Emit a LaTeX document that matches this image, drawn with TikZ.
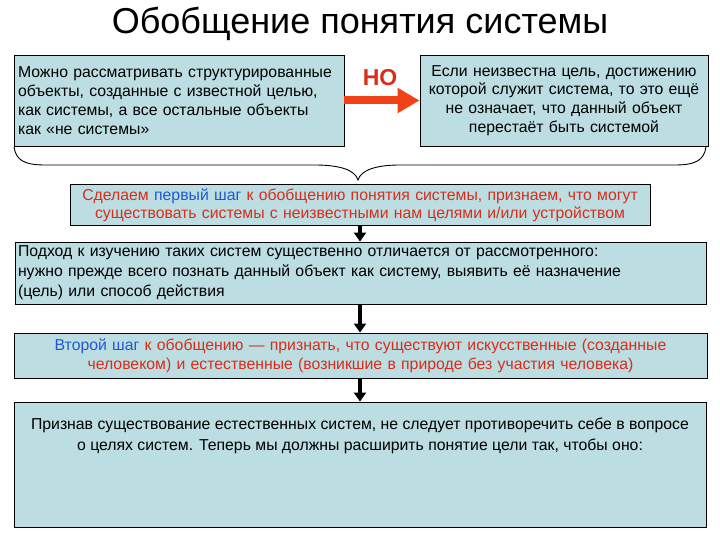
\documentclass[tikz,border=0pt]{standalone}
\usepackage{fontspec}
\setmainfont{Liberation Sans}
\usetikzlibrary{arrows.meta}
\definecolor{boxfill}{RGB}{188,222,226}
\definecolor{txtred}{RGB}{215,45,25}
\definecolor{txtblue}{RGB}{30,90,205}
\definecolor{arrred}{RGB}{240,65,25}
\tikzset{
  box/.style={draw=black, line width=0.9pt, fill=boxfill, inner sep=4pt,
    font=\fontsize{15.8}{18.8}\selectfont},
  blackarrow/.style={line width=3.8pt, -{Triangle[width=12pt,length=9pt]}},
  redarrow/.style={draw=arrred, line width=8pt, -{Triangle[width=24pt,length=22pt]}},
}
\begin{document}
\begin{tikzpicture}[x=1pt,y=-1pt]
\useasboundingbox (0,0) rectangle (720,540);
\node[font=\fontsize{36}{40}\selectfont] (title) at (360,24) {Обобщение понятия системы};

\node[box, minimum width=330pt, minimum height=91pt, text width=322pt, align=left] (b1) at (179,100.5)
 {Можно рассматривать структурированные\\объекты, созданные с известной целью,\\как системы, а все остальные объекты\\как «не системы»};
\node[box, minimum width=284pt, minimum height=91pt, text width=280pt, align=center] (b2) at (564,100.5)
 {Если неизвестна цель, достижению\\которой служит система, то это ещё\\не означает, что данный объект\\перестаёт быть системой};

\draw[redarrow] (b1.east) -- (b2.west);
\node[text=txtred, font=\fontsize{23}{26}\selectfont\bfseries] (no) at (380,78) {НО};

\draw[line width=0.9pt] (14,147) .. controls (16,160) and (24,165) .. (45,165) -- (315,165)
  .. controls (340,165) and (355,170) .. (358,180)
  .. controls (361,170) and (376,165) .. (400,165) -- (675,165)
  .. controls (696,165) and (704,160) .. (706,147);

\node[box, minimum width=576pt, minimum height=38pt, text width=572pt, align=center,
  font=\fontsize{15.8}{18}\selectfont, text=txtred] (b3) at (360,205)
 {Сделаем \textcolor{txtblue}{первый шаг} к обобщению понятия системы, признаем, что могут\\существовать системы с неизвестными нам целями и/или устройством};

\node[box, minimum width=691pt, minimum height=62pt, text width=685pt, align=left, inner sep=3pt,
  font=\fontsize{15.8}{20}\selectfont] (b4) at (360.5,273)
 {Подход к изучению таких систем существенно отличается от рассмотренного:\\нужно прежде всего познать данный объект как систему, выявить её назначение\\(цель) или способ действия};

\node[box, minimum width=691pt, minimum height=45pt, text width=685pt, align=center,
  font=\fontsize{15.8}{19}\selectfont, text=txtred] (b5) at (360.5,355.5)
 {\textcolor{txtblue}{Второй шаг} к обобщению — признать, что существуют искусственные (созданные\\человеком) и естественные (возникшие в природе без участия человека)};

\node[box, minimum width=692pt, minimum height=125pt, inner sep=0pt,
  font=\fontsize{15.8}{21}\selectfont] (b6) at (360,464.5)
 {\parbox[c][117pt][t]{688pt}{\vspace*{12pt}\centering Признав существование естественных систем, не следует противоречить себе в вопросе\\о целях систем. Теперь мы должны расширить понятие цели так, чтобы оно:}};

\draw[blackarrow] (b3.south) -- (b3.south |- b4.north);
\draw[blackarrow] (b4.south -| b3.south) -- (b3.south |- b5.north);
\draw[blackarrow] (b5.south -| b3.south) -- (b3.south |- b6.north);
\end{tikzpicture}
\end{document}
